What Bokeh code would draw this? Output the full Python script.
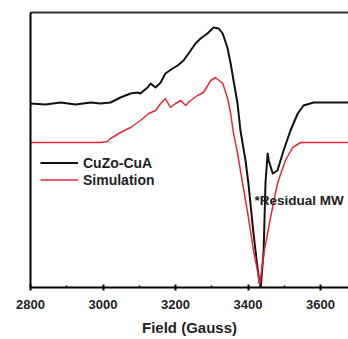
from bokeh.plotting import figure
from bokeh.models import Legend, LegendItem, LinearAxis, FixedTicker, Label, Range1d
from bokeh.embed import file_html
from bokeh.resources import INLINE

# Field (Gauss) and intensity (arb. units)
exp_field = [2800, 2841, 2883, 2924, 2966, 2993, 3021, 3048, 3076, 3095, 3103, 3123, 3131, 3145,
             3159, 3172, 3192, 3206, 3222, 3236, 3255, 3269, 3288, 3305, 3319, 3330, 3343, 3352,
             3360, 3371, 3379, 3393, 3401, 3415, 3426, 3432, 3435, 3443, 3448, 3454, 3457, 3468,
             3481, 3498, 3517, 3537, 3553, 3581, 3620, 3677]
exp_int = [184, 183, 185, 183, 185, 184, 185, 190, 194, 195, 194, 200, 204, 200,
           205, 214, 219, 222, 227, 234, 244, 249, 254, 260, 259, 254, 240, 224,
           207, 184, 157, 127, 104, 54, 20, 4, 0, 37, 104, 134, 127, 114,
           117, 137, 157, 174, 182, 185, 185, 185]

sim_field = [2800, 2993, 3012, 3021, 3048, 3076, 3103, 3126, 3145, 3159, 3172, 3186, 3200, 3214,
             3228, 3241, 3261, 3277, 3297, 3310, 3330, 3343, 3352, 3360, 3371, 3385, 3401, 3415,
             3426, 3432, 3445, 3462, 3481, 3503, 3523, 3545, 3677]
sim_int = [145, 145, 146, 149, 155, 160, 167, 174, 177, 184, 189, 180, 184, 187,
           182, 187, 192, 195, 207, 210, 204, 190, 174, 154, 134, 104, 70, 37,
           17, 3, 37, 70, 104, 127, 140, 145, 145]

x_ticks = [2800, 3000, 3200, 3400, 3600]
x_minor = [2900, 3100, 3300, 3500]
series_names = ["CuZo-CuA", "Simulation"]
annotation = "*Residual MW"

FONT = "Liberation Sans"
RED = "#e8283a"
TXT = "#222222"

p = figure(width=348, height=339, output_backend="svg", toolbar_location=None,
           x_range=Range1d(2800, 3677), y_range=Range1d(0, 275),
           min_border_left=30, min_border_right=0, min_border_top=12, min_border_bottom=52,
           y_axis_location=None)
p.outline_line_color = None
p.grid.visible = False
p.background_fill_color = "white"
p.border_fill_color = "white"

r1 = p.line(exp_field, exp_int, line_color="#111111", line_width=2, line_join="round")
r2 = p.line(sim_field, sim_int, line_color=RED, line_width=1.5, line_join="round")

xa = p.xaxis[0]
xa.ticker = FixedTicker(ticks=x_ticks, minor_ticks=x_minor)
xa.axis_line_width = 2
xa.major_tick_line_width = 2
xa.minor_tick_line_width = 1.5
xa.major_tick_in = 3
xa.major_tick_out = 3
xa.minor_tick_in = 2
xa.minor_tick_out = 0
xa.major_label_standoff = 9
xa.major_label_text_font = FONT
xa.major_label_text_font_style = "bold"
xa.major_label_text_font_size = "13px"
xa.major_label_text_color = TXT
xa.axis_label = "Field (Gauss)"
xa.axis_label_text_font = FONT
xa.axis_label_text_font_style = "bold"
xa.axis_label_text_font_size = "15px"
xa.axis_label_text_color = TXT
xa.axis_label_standoff = 7

left = LinearAxis(ticker=FixedTicker(ticks=[]), axis_line_width=2)
p.add_layout(left, "left")
top = LinearAxis(ticker=FixedTicker(ticks=[]), axis_line_width=2, axis_line_color="#333333")
p.add_layout(top, "above")

legend = Legend(items=[LegendItem(label=series_names[0], renderers=[r1]),
                       LegendItem(label=series_names[1], renderers=[r2])],
                location=(10, 99), padding=0, margin=0, spacing=0,
                glyph_width=38, glyph_height=17, label_height=17, label_standoff=5,
                label_text_font=FONT, label_text_font_style="bold", label_text_font_size="14px",
                label_text_color=TXT, border_line_color=None, background_fill_alpha=0)
p.add_layout(legend, "center")

p.add_layout(Label(x=3418, y=87, text=annotation, text_font=FONT, text_font_style="bold",
                   text_font_size="13.5px", text_color=TXT, text_baseline="middle"))

open("out.html", "w").write(file_html(p, INLINE))
